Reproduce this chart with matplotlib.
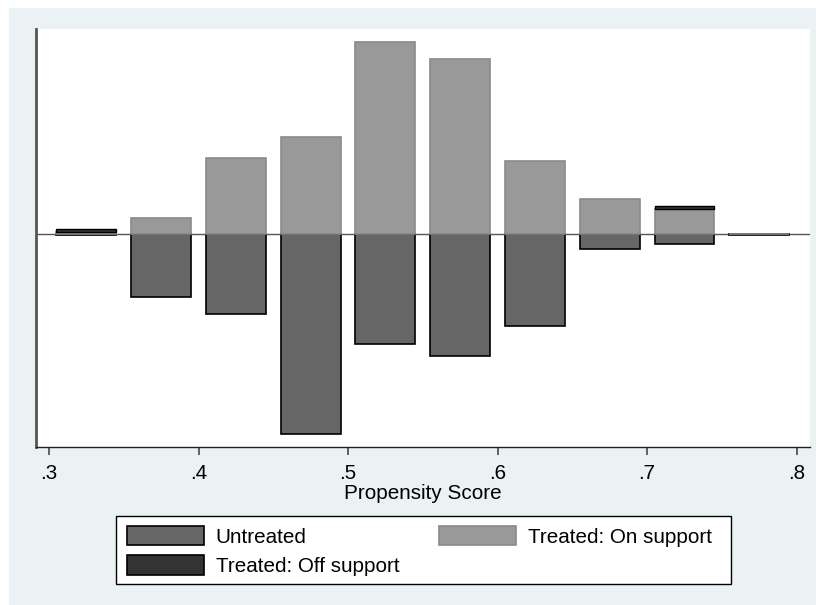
import numpy as np
import matplotlib.pyplot as plt
from matplotlib.patches import Patch, Rectangle

plt.rcParams['font.family'] = ['Liberation Sans', 'DejaVu Sans']

# bin centres of the propensity score histogram
bin_centres = [0.325, 0.375, 0.425, 0.475, 0.525, 0.575, 0.625, 0.675, 0.725, 0.775]
# treated on support (up), treated off support (stacked on top), untreated (down)
treated_on = [1, 8, 38, 48.5, 96, 87.5, 36.5, 17.5, 12.5, 0]
treated_off = [1.5, 0, 0, 0, 0, 0, 0, 0, 1.75, 0]
untreated = [0.5, 31.5, 40, 100, 55, 61, 46, 7.5, 5, 0.6]

tick_pos = [0.3, 0.4, 0.5, 0.6, 0.7, 0.8]
tick_labels = ['.3', '.4', '.5', '.6', '.7', '.8']

bg = '#EAF2F3'
c_untr = '#666666'
c_on = '#999999'
c_off = '#333333'
fs = 14.9

fig = plt.figure(figsize=(8.16, 6.05), dpi=100)
fig.patch.set_facecolor('white')
# stata style outer region
fig.patches.append(Rectangle((9/816, 0), 1, 1 - 8/605, transform=fig.transFigure,
                             facecolor=bg, edgecolor='none', zorder=-10))

ax = fig.add_axes([36/816, 1 - 447/605, (810-36)/816, (447-29)/605])
ax.set_facecolor('white')

w = 0.04
x = np.array(bin_centres)
on = np.array(treated_on)
off = np.array(treated_off)
ut = np.array(untreated)
m = off > 0

ax.axhline(0, color='#555555', lw=1, zorder=1)
ax.bar(x, -ut, width=w, color=c_untr, edgecolor='black', lw=1.2, zorder=2)
ax.bar(x, on, width=w, color=c_on, edgecolor='#8a8a8a', lw=1.2, zorder=2)
ax.bar(x[m], off[m], bottom=on[m], width=w, color=c_off, edgecolor='black', lw=1.0, zorder=2)

ax.set_xlim(0.2913, 0.8090)
ax.set_ylim(-106.5, 102.5)

ax.set_xticks(tick_pos)
ax.set_xticklabels(tick_labels, fontsize=fs)
ax.set_yticks([])
ax.tick_params(axis='x', length=6, width=1.3, color='#555555', pad=6)
ax.set_xlabel('Propensity Score', fontsize=fs, labelpad=1)

for s in ['top', 'right']:
    ax.spines[s].set_visible(False)
ax.spines['left'].set_color('#555555')
ax.spines['left'].set_linewidth(2)
ax.spines['bottom'].set_color('#222222')
ax.spines['bottom'].set_linewidth(1.0)

# legend box
fig.patches.append(Rectangle((116/816, 1 - 584/605), (731-116)/816, (584-516)/605,
                             transform=fig.transFigure, facecolor='white',
                             edgecolor='black', lw=1.0, zorder=1))

handles = [Patch(facecolor=c_untr, edgecolor='black', lw=1.2),
           Patch(facecolor=c_off, edgecolor='black', lw=1.2),
           Patch(facecolor=c_on, edgecolor='#8a8a8a', lw=1.2)]
labels = ['Untreated', 'Treated: Off support', 'Treated: On support']
leg = fig.legend(handles, labels, ncol=2, loc='upper left',
                 bbox_to_anchor=(119/816, 1 - 518/605), bbox_transform=fig.transFigure,
                 fontsize=fs, handlelength=3.75, handleheight=1.08,
                 handletextpad=0.55, columnspacing=1.9, labelspacing=0.4,
                 borderpad=0.38, borderaxespad=0, frameon=False)
leg.set_zorder(2)

fig.savefig('out.png', dpi=100, facecolor=fig.get_facecolor())
